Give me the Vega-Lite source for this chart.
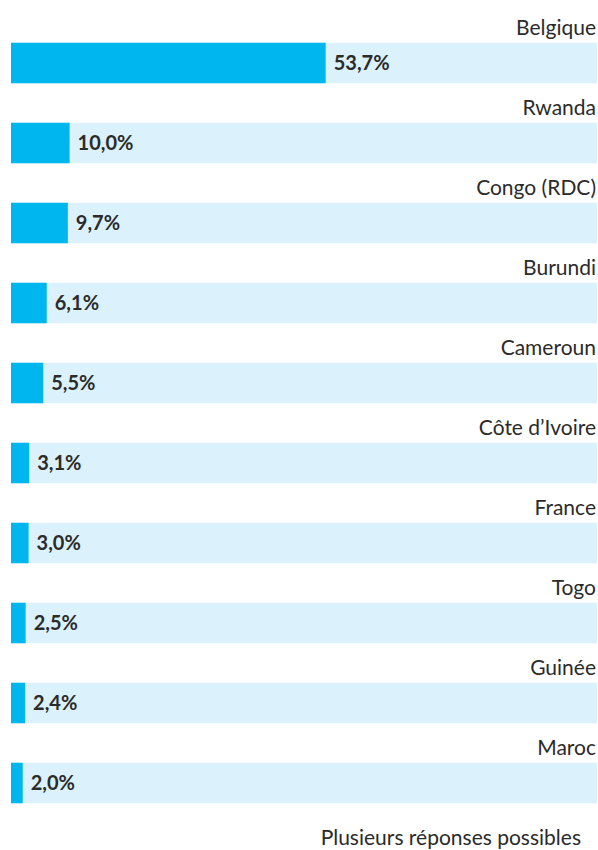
{
  "$schema": "https://vega.github.io/schema/vega-lite/v6.json",
  "width": 586,
  "height": 800,
  "autosize": "none",
  "padding": {"left": 11, "top": 23, "right": 1, "bottom": 27},
  "background": "white",
  "title": {
    "text": "Plusieurs réponses possibles",
    "orient": "bottom",
    "anchor": "end",
    "baseline": "alphabetic",
    "offset": 22,
    "dx": -16,
    "font": "Lato",
    "fontSize": 21,
    "fontWeight": "normal",
    "color": "#2b2b2b"
  },
  "config": {"view": {"stroke": null}},
  "data": {
    "values": [
      {"country": "Belgique", "value": 53.7},
      {"country": "Rwanda", "value": 10.0},
      {"country": "Congo (RDC)", "value": 9.7},
      {"country": "Burundi", "value": 6.1},
      {"country": "Cameroun", "value": 5.5},
      {"country": "Côte d’Ivoire", "value": 3.1},
      {"country": "France", "value": 3.0},
      {"country": "Togo", "value": 2.5},
      {"country": "Guinée", "value": 2.4},
      {"country": "Maroc", "value": 2.0}
    ]
  },
  "transform": [
    {"calculate": "replace(format(datum.value, '.1f'), '.', ',') + '%'", "as": "label"}
  ],
  "encoding": {
    "y": {
      "field": "country",
      "type": "nominal",
      "sort": null,
      "scale": {"paddingInner": 0, "paddingOuter": 0},
      "axis": null
    }
  },
  "layer": [
    {
      "mark": {"type": "bar", "height": 40.5, "color": "#dbf1fb"},
      "encoding": {
        "x": {"datum": 100, "type": "quantitative", "scale": {"domain": [0, 100]}, "axis": null}
      }
    },
    {
      "mark": {"type": "bar", "height": 40.5, "color": "#00b6ee"},
      "encoding": {
        "x": {"field": "value", "type": "quantitative", "scale": {"domain": [0, 100]}, "axis": null}
      }
    },
    {
      "mark": {"type": "text", "align": "left", "baseline": "alphabetic", "dx": 8, "dy": 7, "font": "Lato", "fontSize": 20, "fontWeight": "bold", "color": "#2b2b2b"},
      "encoding": {
        "x": {"field": "value", "type": "quantitative"},
        "text": {"field": "label"}
      }
    },
    {
      "mark": {"type": "text", "align": "right", "baseline": "alphabetic", "dx": -1, "dy": -28, "font": "Lato", "fontSize": 21, "color": "#2b2b2b"},
      "encoding": {
        "x": {"datum": 100, "type": "quantitative"},
        "text": {"field": "country"}
      }
    }
  ]
}
